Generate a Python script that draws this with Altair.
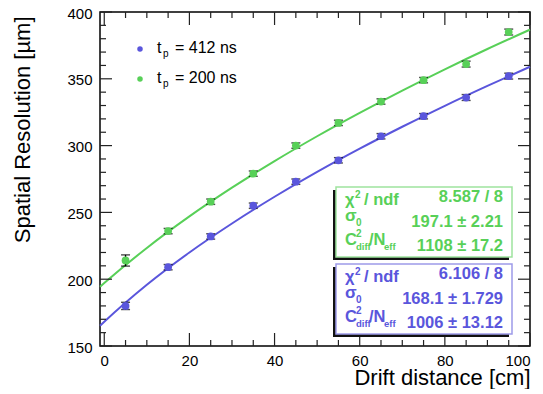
import altair as alt
import pandas as pd

# ---------------- data ----------------
drift_cm = [5, 15, 25, 35, 45, 55, 65, 75, 85, 95]
res_412 = [180, 209, 232, 255, 273, 289, 307, 322, 336, 352]
err_412 = [2.7, 2, 2, 2, 2, 2, 2, 2, 2.2, 2.2]
res_200 = [214, 236, 258, 279, 300, 317, 333, 349, 361, 385]
err_200 = [4.2, 2, 2, 2, 2, 2, 2, 2, 2.2, 2.2]

fit_x = [-1, 0, 10, 20, 30, 40, 50, 60, 70, 80, 90, 100]
fit_412 = [165.1, 168.1, 195.8, 220.0, 241.7, 261.7, 280.3, 297.7, 314.1, 329.8, 344.7, 359.0]
fit_200 = [194.3, 197.1, 223.4, 247.0, 268.5, 288.4, 307.0, 324.5, 341.2, 357.1, 372.3, 386.8]

x_major = [0, 20, 40, 60, 80, 100]
x_minor = [v for v in range(0, 101, 5) if v % 20 != 0]
y_major = [150, 200, 250, 300, 350, 400]
y_minor = [v for v in range(150, 401, 10) if v % 50 != 0]

series = ["412", "200"]
BLUE = "#5a56dc"
GREEN = "#58d058"
FONT = "Liberation Sans"

W, H = 430, 334

xs = alt.Scale(domain=[-1, 100], nice=False, zero=False)
ys = alt.Scale(domain=[150, 400], nice=False, zero=False)
cs = alt.Scale(domain=series, range=[BLUE, GREEN])

x_axis = alt.Axis(values=x_major, ticks=False, domain=False, grid=False,
                  labelFont=FONT, labelFontSize=15, labelColor="black", labelPadding=7,
                  title="Drift distance [cm]", titleFont=FONT, titleFontSize=22,
                  titleFontWeight="normal", titleColor="black",
                  titleX=W, titleY=38, titleAlign="right", titleBaseline="alphabetic")
y_axis = alt.Axis(values=y_major, ticks=False, domain=False, grid=False,
                  labelFont=FONT, labelFontSize=15, labelColor="black", labelPadding=8,
                  labelOffset=1,
                  title="Spatial Resolution [µm]", titleFont=FONT, titleFontSize=22,
                  titleFontWeight="normal", titleColor="black",
                  titleX=-71, titleY=4, titleAlign="right", titleAngle=270,
                  titleBaseline="alphabetic")

# ---------------- frames ----------------
fit_df = pd.DataFrame({
    "x": fit_x * 2,
    "y": fit_412 + fit_200,
    "s": ["412"] * len(fit_x) + ["200"] * len(fit_x),
})
pts_df = pd.DataFrame({
    "x": drift_cm * 2,
    "y": res_412 + res_200,
    "lo": [v - e for v, e in zip(res_412, err_412)] + [v - e for v, e in zip(res_200, err_200)],
    "hi": [v + e for v, e in zip(res_412, err_412)] + [v + e for v, e in zip(res_200, err_200)],
    "s": ["412"] * len(drift_cm) + ["200"] * len(drift_cm),
})

def X(f):
    return alt.X(f, type="quantitative", scale=xs, axis=x_axis)

def Y(f):
    return alt.Y(f, type="quantitative", scale=ys, axis=y_axis)

lines = alt.Chart(fit_df).mark_line(strokeWidth=2, interpolate="monotone").encode(
    x=X("x"), y=Y("y"),
    color=alt.Color("s:N", scale=cs, legend=None),
)
ebars = alt.Chart(pts_df).mark_rule(color="black", strokeWidth=1.3).encode(
    x=X("x"), y=Y("lo"), y2="hi")
cap_lo = alt.Chart(pts_df).mark_tick(color="black", orient="horizontal", size=9, thickness=1.4).encode(
    x=X("x"), y=Y("lo"))
cap_hi = alt.Chart(pts_df).mark_tick(color="black", orient="horizontal", size=9, thickness=1.4).encode(
    x=X("x"), y=Y("hi"))
points = alt.Chart(pts_df).mark_circle(size=60, opacity=1).encode(
    x=X("x"), y=Y("y"), color=alt.Color("s:N", scale=cs, legend=None))

# ---------------- ticks (inside, all four sides) ----------------
tick_layers = []
TC = "#222222"
for vals, L in ((x_major, 13), (x_minor, 6)):
    d = pd.DataFrame({"v": vals})
    tick_layers.append(alt.Chart(d).mark_rule(color=TC, strokeWidth=1.2).encode(
        x=X("v"), y=alt.value(H), y2=alt.value(H - L)))
    tick_layers.append(alt.Chart(d).mark_rule(color=TC, strokeWidth=1.2).encode(
        x=X("v"), y=alt.value(0), y2=alt.value(L)))
for vals, L in ((y_major, 12), (y_minor, 6)):
    d = pd.DataFrame({"v": vals})
    tick_layers.append(alt.Chart(d).mark_rule(color=TC, strokeWidth=1.2).encode(
        y=Y("v"), x=alt.value(0), x2=alt.value(L)))
    tick_layers.append(alt.Chart(d).mark_rule(color=TC, strokeWidth=1.2).encode(
        y=Y("v"), x=alt.value(W), x2=alt.value(W - L)))

# ---------------- annotations ----------------
one = pd.DataFrame({"a": [0]})

def txt(s, x, y, size, color, weight="bold", align="left"):
    return alt.Chart(one).mark_text(text=s, font=FONT, fontSize=size, fontWeight=weight,
                                    color=color, align=align, baseline="alphabetic").encode(
        x=alt.value(x), y=alt.value(y))

def rect(x1, x2, y1, y2, fill, stroke=None):
    kw = dict(fill=fill)
    if stroke:
        kw.update(stroke=stroke, strokeWidth=1.5)
    else:
        kw.update(strokeWidth=0)
    return alt.Chart(one).mark_rect(**kw).encode(
        x=alt.value(x1), x2=alt.value(x2), y=alt.value(y1), y2=alt.value(y2))

ann = []
# legend
for lab, col, yb in (("= 412 ns", BLUE, 41), ("= 200 ns", GREEN, 71)):
    ann.append(alt.Chart(one).mark_circle(size=30, opacity=1, color=col).encode(
        x=alt.value(40), y=alt.value(yb - 4)))
    ann.append(txt("t", 57, yb, 16, "black", "normal"))
    ann.append(txt("p", 63, yb + 4, 10, "black", "normal"))
    ann.append(txt(lab, 75, yb, 16, "black", "normal"))

# stat boxes
boxes = [
    (GREEN, "#9ee39e", 0, ("8.587 / 8", "197.1 ± 2.21", "1108 ± 17.2")),
    (BLUE, "#9d9be9", 77, ("6.106 / 8", "168.1 ± 1.729", "1006 ± 13.12")),
]
for col, border, off, vals in boxes:
    top, bot = 175 + off, 245 + off
    ann.append(rect(233, 409, top + 3, bot + 3, "#111111"))
    ann.append(rect(236, 412, top, bot, "white", border))
    # labels
    ann.append(txt("χ", 245, 193 + off, 16.5, col))
    ann.append(txt("2", 255, 186 + off, 10, col))
    ann.append(txt("/ ndf", 264, 193 + off, 16.5, col))
    ann.append(txt("σ", 245, 209 + off, 17, col))
    ann.append(txt("0", 256, 214 + off, 10, col))
    ann.append(txt("C", 245, 233 + off, 16.5, col))
    ann.append(txt("2", 256, 225 + off, 10, col))
    ann.append(txt("diff", 256, 238 + off, 9.5, col))
    ann.append(txt("/N", 269, 233 + off, 16.5, col))
    ann.append(txt("eff", 284, 238 + off, 9.5, col))
    # values
    for v, yb in zip(vals, (190, 215, 239)):
        ann.append(txt(v, 403, yb + off, 16.5, col, align="right"))

chart = alt.layer(lines, ebars, cap_lo, cap_hi, points, *tick_layers, *ann).properties(
    width=W, height=H,
    autosize=alt.AutoSizeParams(type="none"),
    padding={"left": 92, "top": 4, "right": 5, "bottom": 43},
).configure_view(stroke="black", strokeWidth=1.5)

chart.save("out.html", embed_options={"renderer": "svg", "actions": False})
